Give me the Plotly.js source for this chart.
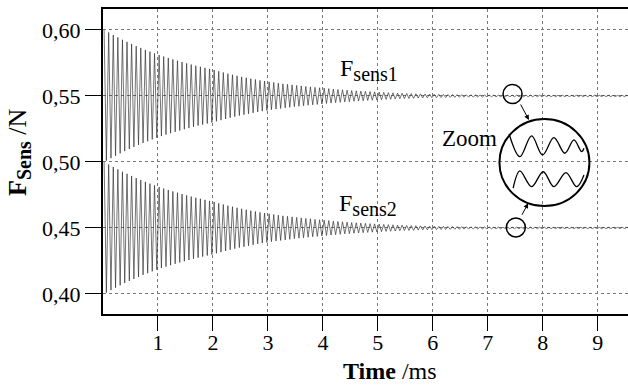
<!DOCTYPE html>
<html><head><meta charset="utf-8">
<script src="https://cdn.plot.ly/plotly-3.0.1.min.js"></script>
<style>html,body{margin:0;padding:0;background:#fff}</style>
</head><body><div id="chart" style="width:628px;height:387px"></div>
<script>
// Sampling of the extremes (half-periods) of the damped oscillation, in ms
const t0Ms = 0.02;
const dtMs = 0.0417;

const fsens1 = [
0.6000,0.5010,0.5981,0.5029,0.5962,0.5047,0.5944,0.5065,0.5926,0.5082,
0.5910,0.5098,0.5894,0.5114,0.5878,0.5129,0.5864,0.5144,0.5849,0.5157,
0.5836,0.5171,0.5823,0.5184,0.5810,0.5196,0.5799,0.5207,0.5788,0.5218,
0.5777,0.5228,0.5767,0.5238,0.5757,0.5248,0.5747,0.5257,0.5738,0.5266,
0.5729,0.5275,0.5721,0.5283,0.5713,0.5291,0.5705,0.5299,0.5697,0.5308,
0.5687,0.5317,0.5678,0.5326,0.5669,0.5335,0.5661,0.5343,0.5653,0.5351,
0.5645,0.5358,0.5638,0.5365,0.5631,0.5372,0.5625,0.5379,0.5618,0.5385,
0.5613,0.5390,0.5607,0.5396,0.5602,0.5401,0.5597,0.5405,0.5592,0.5410,
0.5588,0.5414,0.5584,0.5419,0.5580,0.5422,0.5576,0.5426,0.5572,0.5430,
0.5569,0.5433,0.5565,0.5436,0.5562,0.5439,0.5559,0.5443,0.5556,0.5446,
0.5552,0.5449,0.5549,0.5452,0.5547,0.5455,0.5544,0.5457,0.5541,0.5460,
0.5539,0.5462,0.5537,0.5464,0.5535,0.5466,0.5533,0.5468,0.5531,0.5470,
0.5529,0.5472,0.5527,0.5474,0.5525,0.5475,0.5524,0.5477,0.5522,0.5479,
0.5521,0.5480,0.5519,0.5481,0.5518,0.5482,0.5517,0.5484,0.5516,0.5485,
0.5515,0.5486,0.5514,0.5487,0.5513,0.5487,0.5512,0.5488,0.5512,0.5488,
0.5511,0.5489,0.5511,0.5490,0.5510,0.5490,0.5510,0.5491,0.5509,0.5491,
0.5509,0.5492,0.5508,0.5492,0.5508,0.5492,0.5507,0.5493,0.5507,0.5494,
0.5506,0.5494,0.5506,0.5494,0.5506,0.5494,0.5506,0.5494,0.5506,0.5494,
0.5506,0.5494,0.5506,0.5494,0.5506,0.5494,0.5506,0.5494,0.5506,0.5494,
0.5506,0.5494,0.5506,0.5495,0.5505,0.5495,0.5505,0.5495,0.5505,0.5495,
0.5505,0.5495,0.5505,0.5495,0.5505,0.5495,0.5505,0.5495,0.5505,0.5495,
0.5505,0.5495,0.5505,0.5495,0.5505,0.5495,0.5505,0.5495,0.5505,0.5495,
0.5505,0.5495,0.5505,0.5495,0.5505,0.5495,0.5505,0.5495,0.5505,0.5495,
0.5505
];

const fsens2 = [
0.5000,0.4010,0.4981,0.4029,0.4962,0.4047,0.4944,0.4065,0.4926,0.4082,
0.4910,0.4098,0.4894,0.4114,0.4878,0.4129,0.4864,0.4144,0.4849,0.4157,
0.4836,0.4171,0.4823,0.4184,0.4810,0.4196,0.4799,0.4207,0.4788,0.4218,
0.4777,0.4228,0.4767,0.4238,0.4757,0.4248,0.4747,0.4257,0.4738,0.4266,
0.4729,0.4275,0.4721,0.4283,0.4713,0.4291,0.4705,0.4299,0.4697,0.4308,
0.4687,0.4317,0.4678,0.4326,0.4669,0.4335,0.4661,0.4343,0.4653,0.4351,
0.4645,0.4358,0.4638,0.4365,0.4631,0.4372,0.4625,0.4379,0.4618,0.4385,
0.4613,0.4390,0.4607,0.4396,0.4602,0.4401,0.4597,0.4405,0.4592,0.4410,
0.4588,0.4414,0.4584,0.4419,0.4580,0.4422,0.4576,0.4426,0.4572,0.4430,
0.4569,0.4433,0.4565,0.4436,0.4562,0.4439,0.4559,0.4443,0.4556,0.4446,
0.4552,0.4449,0.4549,0.4452,0.4547,0.4455,0.4544,0.4457,0.4541,0.4460,
0.4539,0.4462,0.4537,0.4464,0.4535,0.4466,0.4533,0.4468,0.4531,0.4470,
0.4529,0.4472,0.4527,0.4474,0.4525,0.4475,0.4524,0.4477,0.4522,0.4479,
0.4521,0.4480,0.4519,0.4481,0.4518,0.4482,0.4517,0.4484,0.4516,0.4485,
0.4515,0.4486,0.4514,0.4487,0.4513,0.4487,0.4512,0.4488,0.4512,0.4488,
0.4511,0.4489,0.4511,0.4490,0.4510,0.4490,0.4510,0.4491,0.4509,0.4491,
0.4509,0.4492,0.4508,0.4492,0.4508,0.4492,0.4507,0.4493,0.4507,0.4494,
0.4506,0.4494,0.4506,0.4494,0.4506,0.4494,0.4506,0.4494,0.4506,0.4494,
0.4506,0.4494,0.4506,0.4494,0.4506,0.4494,0.4506,0.4494,0.4506,0.4494,
0.4506,0.4494,0.4506,0.4495,0.4505,0.4495,0.4505,0.4495,0.4505,0.4495,
0.4505,0.4495,0.4505,0.4495,0.4505,0.4495,0.4505,0.4495,0.4505,0.4495,
0.4505,0.4495,0.4505,0.4495,0.4505,0.4495,0.4505,0.4495,0.4505,0.4495,
0.4505,0.4495,0.4505,0.4495,0.4505,0.4495,0.4505,0.4495,0.4505,0.4495,
0.4505
];

// Magnified inset ("Zoom") waveforms, in main-axis coordinates
const zoomTopX = [7.388,7.583,7.796,7.996,8.202,8.402,8.566,8.707,8.749];
const zoomTopY = [0.5212,0.5040,0.5197,0.5053,0.5184,0.5066,0.5167,0.5078,0.5104];
const zoomBotX = [7.461,7.583,7.796,8.007,8.202,8.421,8.616,8.749];
const zoomBotY = [0.4801,0.4932,0.4813,0.4926,0.4813,0.4919,0.4813,0.4902];

const xTicks = [1,2,3,4,5,6,7,8,9];
const yTicks = [0.40,0.45,0.50,0.55,0.60];

const serif = 'Liberation Serif, serif';

const sigLine = {color:'#2a2a2a', width:0.65};
const traces = [
  {type:'scatter', mode:'lines', x0:t0Ms, dx:dtMs, y:fsens1, line:sigLine, hoverinfo:'skip'},
  {type:'scatter', mode:'lines', x0:t0Ms, dx:dtMs, y:fsens2, line:sigLine, hoverinfo:'skip'},
  {type:'scatter', mode:'lines', x:zoomTopX, y:zoomTopY, line:{color:'#000', width:1.3, shape:'spline', smoothing:1}, hoverinfo:'skip'},
  {type:'scatter', mode:'lines', x:zoomBotX, y:zoomBotY, line:{color:'#000', width:1.3, shape:'spline', smoothing:1}, hoverinfo:'skip'}
];

const layout = {
  width:628, height:387,
  margin:{l:103, r:0, t:9, b:73},
  paper_bgcolor:'#fff', plot_bgcolor:'#fff',
  showlegend:false,
  separators:',.',
  font:{family:serif, color:'#000', size:22},
  xaxis:{
    range:[0,9.55], tickvals:xTicks, ticktext:xTicks.map(String),
    ticks:'outside', ticklen:15, tickwidth:1, tickcolor:'#000',
    ticklabelstandoff:-7,
    showline:true, linewidth:2, linecolor:'#000', mirror:true,
    showgrid:true, gridcolor:'#777', gridwidth:1, griddash:'dot',
    zeroline:false, tickfont:{family:serif, size:22, color:'#000'}
  },
  yaxis:{
    range:[0.3848,0.6159], tickvals:yTicks, tickformat:'.2f',
    ticks:'outside', ticklen:16, tickwidth:1, tickcolor:'#000',
    showline:true, linewidth:2, linecolor:'#000', mirror:false,
    showgrid:true, gridcolor:'#777', gridwidth:1, griddash:'dot',
    zeroline:false, tickfont:{family:serif, size:22, color:'#000'}
  },
  shapes:[
    {type:'circle', xref:'x', yref:'y', xsizemode:'pixel', ysizemode:'pixel',
     xanchor:8.03, yanchor:0.4995, x0:-45, x1:45, y0:-43.5, y1:43.5,
     line:{color:'#000', width:2}},
    {type:'circle', xref:'x', yref:'y', xsizemode:'pixel', ysizemode:'pixel',
     xanchor:7.45, yanchor:0.5515, x0:-9.5, x1:9.5, y0:-9.5, y1:9.5,
     line:{color:'#000', width:1.5}},
    {type:'circle', xref:'x', yref:'y', xsizemode:'pixel', ysizemode:'pixel',
     xanchor:7.51, yanchor:0.4504, x0:-9.5, x1:9.5, y0:-9.5, y1:9.5,
     line:{color:'#000', width:1.5}}
  ],
  annotations:[
    {xref:'x', yref:'y', x:4.27, y:0.5697, xanchor:'left', yanchor:'middle', showarrow:false,
     text:'F<sub><span style="font-size:20px">sens1</span></sub>', font:{family:serif, size:24, color:'#000'}},
    {xref:'x', yref:'y', x:4.25, y:0.4677, xanchor:'left', yanchor:'middle', showarrow:false,
     text:'F<sub><span style="font-size:20px">sens2</span></sub>', font:{family:serif, size:24, color:'#000'}},
    {xref:'x', yref:'y', x:6.67, y:0.5181, xanchor:'center', yanchor:'middle', showarrow:false,
     text:'Zoom', font:{family:serif, size:23, color:'#000'}},
    {xref:'x', yref:'y', x:7.747, y:0.5318, ax:-9, ay:-17, showarrow:true, text:'',
     arrowhead:2, arrowsize:1, arrowwidth:1, arrowcolor:'#000'},
    {xref:'x', yref:'y', x:7.734, y:0.4687, ax:-7, ay:13, showarrow:true, text:'',
     arrowhead:2, arrowsize:1, arrowwidth:1, arrowcolor:'#000'},
    {xref:'paper', yref:'paper', x:(390-103)/525, y:-(371-314)/305, xanchor:'center', yanchor:'middle', showarrow:false,
     text:'<b>Time</b> /ms', font:{family:serif, size:24, color:'#000'}},
    {xref:'paper', yref:'paper', x:(19-103)/525, y:(314-152)/305, xanchor:'center', yanchor:'middle', showarrow:false,
     textangle:-90, text:'<b>F<sub><span style="font-size:20px">Sens</span></sub></b> /N', font:{family:serif, size:26, color:'#000'}}
  ]
};

Plotly.newPlot('chart', traces, layout, {staticPlot:true, displayModeBar:false});
</script></body></html>
